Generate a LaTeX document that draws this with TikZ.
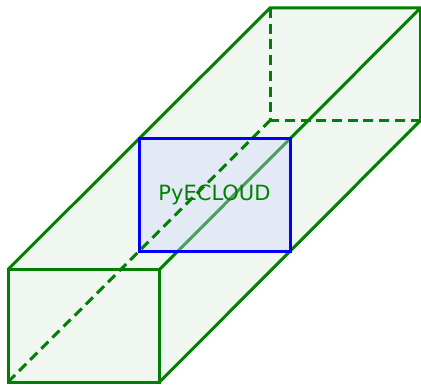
\documentclass[tikz,border=0pt]{standalone}
\usepackage{fontspec}
\setmainfont{DejaVu Sans}
\definecolor{wallgreen}{RGB}{240,247,240}
\definecolor{linegreen}{RGB}{0,128,0}
\definecolor{cloudfill}{RGB}{205,211,254}

\begin{document}
\begin{tikzpicture}[
  x=1pt, y=1pt,
  wall/.style={fill=wallgreen, draw=none},
  edge/.style={draw=linegreen, line width=3pt},
  hidden/.style={edge, dash pattern=on 10pt off 5.7pt},
  cloudbg/.style={minimum width=151pt, minimum height=112.5pt, inner sep=0pt, outer sep=0pt,
                  fill=cloudfill, fill opacity=0.37},
  cloudbox/.style={draw=blue, line width=3pt, minimum width=151pt, minimum height=112.5pt,
                   inner sep=0pt, outer sep=0pt, text=linegreen, font=\fontsize{21}{25}\selectfont},
]
\useasboundingbox (0,0) rectangle (421,384);

% === Corners ===
\coordinate (f1) at (8,2);
\coordinate (f2) at (159.5,2);
\coordinate (f3) at (159.5,114.5);
\coordinate (f4) at (8,114.5);
\coordinate (b1) at (270,263.5);
\coordinate (b2) at (420.5,263.5);
\coordinate (b3) at (420.5,376);
\coordinate (b4) at (270,376);

% === Walls ===
\fill[wall] (f1) -- (f2) -- (b2) -- (b3) -- (b4) -- (f4) -- cycle;

% === Solid edges ===
\draw[edge] (f1) rectangle (f3);
\draw[edge] (f4) -- (b4) -- (b3) -- (f3);
\draw[edge] (f2) -- (b2) -- (b3);

% === Box in the middle ===
\node[cloudbg] (back) at (214.5,189) {};

% === Hidden edges ===
\draw[hidden] (f1) -- (b1);
\draw[hidden] (b4) -- (b1);
\draw[hidden] (b2) -- (b1);

\node[cloudbox] (cloud) at (back) {\raisebox{-1.6pt}{PyECLOUD}};

\end{tikzpicture}
\end{document}
